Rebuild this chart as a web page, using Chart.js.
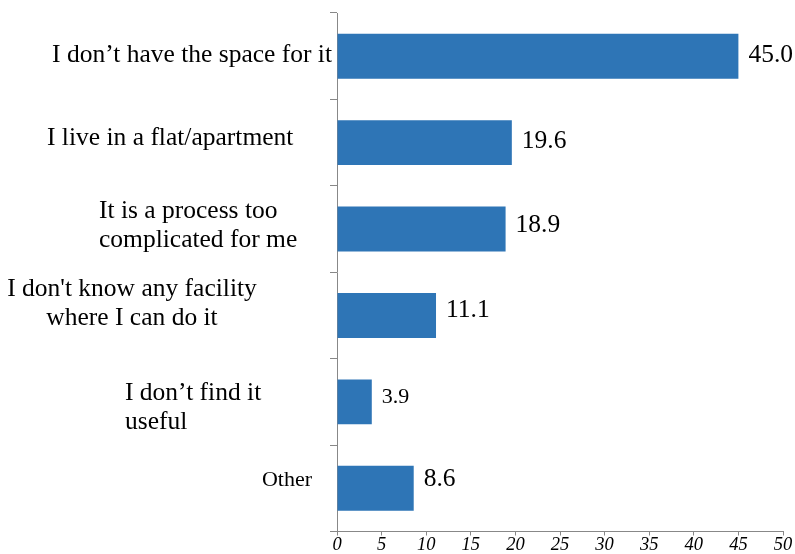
<!DOCTYPE html>
<html>
<head>
<meta charset="utf-8">
<title>Reasons for not composting</title>
<script src="https://cdn.jsdelivr.net/npm/chart.js@4/dist/chart.umd.min.js"></script>
<style>
  html, body { margin: 0; padding: 0; background: #fff; }
  #wrap { width: 795px; height: 554px; }
</style>
</head>
<body>
<div id="wrap"><canvas id="myChart"></canvas></div>
<script>
// answers, one entry per bar (lines split where the label wraps)
var categories = [
	["I don\u2019t have the space for it"],
	["I live in a flat/apartment"],
	["It is a process too", "complicated for me"],
	["I don't know any facility", "where I can do it"],
	["I don\u2019t find it", "useful"],
	["Other"]
];
var percents = [45.0, 19.6, 18.9, 11.1, 3.9, 8.6];
var xTicks = [0, 5, 10, 15, 20, 25, 30, 35, 40, 45, 50];

// where each answer label sits left of the axis
var labelPlace = [
	{x: 332, align: 'right', dy: -1, size: 25.5},
	{x: 47, align: 'left', dy: -4, size: 25.5},
	{x: 99, align: 'left', dy: -3, size: 25.5},
	{x: 132, align: 'center', dy: -12, size: 25.5},
	{x: 125, align: 'left', dy: 6, size: 25.5},
	{x: 312, align: 'right', dy: -8, size: 22}
];
// size and nudge of the number printed after each bar
var valuePlace = [
	{dy: -1, size: 25.5},
	{dy: -1, size: 25.5},
	{dy: -4, size: 25.5},
	{dy: -5, size: 25.5},
	{dy: -5, size: 22},
	{dy: -9, size: 25.5}
];

var serif = "'Liberation Serif', 'Times New Roman', serif";

var answerLabels = {
	id: 'answerLabels',
	afterDraw: function(chart) {
		var ctx = chart.ctx;
		var yScale = chart.scales.y;
		ctx.save();
		ctx.fillStyle = '#000';
		ctx.textBaseline = 'middle';
		categories.forEach(function(lines, i) {
			var p = labelPlace[i];
			var lineH = 29;
			var cy = yScale.getPixelForTick(i) + p.dy;
			var top = cy - (lines.length - 1) * lineH / 2;
			ctx.font = p.size + 'px ' + serif;
			ctx.textAlign = p.align;
			lines.forEach(function(t, k) {
				ctx.fillText(t, p.x, top + k * lineH);
			});
		});
		ctx.restore();
	}
};

var barValues = {
	id: 'barValues',
	afterDatasetsDraw: function(chart) {
		var ctx = chart.ctx;
		var meta = chart.getDatasetMeta(0);
		ctx.save();
		ctx.fillStyle = '#000';
		ctx.textAlign = 'left';
		ctx.textBaseline = 'middle';
		meta.data.forEach(function(bar, i) {
			var p = valuePlace[i];
			ctx.font = p.size + 'px ' + serif;
			ctx.fillText(percents[i].toFixed(1), bar.x + 10, bar.y + p.dy);
		});
		ctx.restore();
	}
};

var ctx = document.getElementById('myChart').getContext('2d');
var chart = new Chart(ctx, {
	type: 'bar',
	data: {
		labels: categories,
		datasets: [{
			data: percents,
			backgroundColor: '#2E75B6',
			borderWidth: 0,
			categoryPercentage: 0.52,
			barPercentage: 1
		}]
	},
	options: {
		indexAxis: 'y',
		responsive: true,
		maintainAspectRatio: false,
		animation: false,
		layout: { padding: { left: 330, top: 13, right: 12, bottom: 0 } },
		plugins: {
			legend: { display: false },
			tooltip: { enabled: false }
		},
		scales: {
			x: {
				min: 0,
				max: 50,
				afterBuildTicks: function(scale) {
					scale.ticks = xTicks.map(function(v) { return {value: v}; });
				},
				grid: { drawOnChartArea: false, tickLength: 4, color: '#888' },
				border: { color: '#888', width: 1 },
				ticks: {
					padding: 0,
					color: '#000',
					maxRotation: 0,
					font: { family: serif, size: 18.5, style: 'italic', lineHeight: 1 }
				}
			},
			y: {
				grid: { drawOnChartArea: false, tickLength: 7, color: '#888', offset: true },
				border: { color: '#888', width: 1 },
				ticks: { display: false }
			}
		}
	},
	plugins: [answerLabels, barValues]
});
</script>
</body>
</html>
